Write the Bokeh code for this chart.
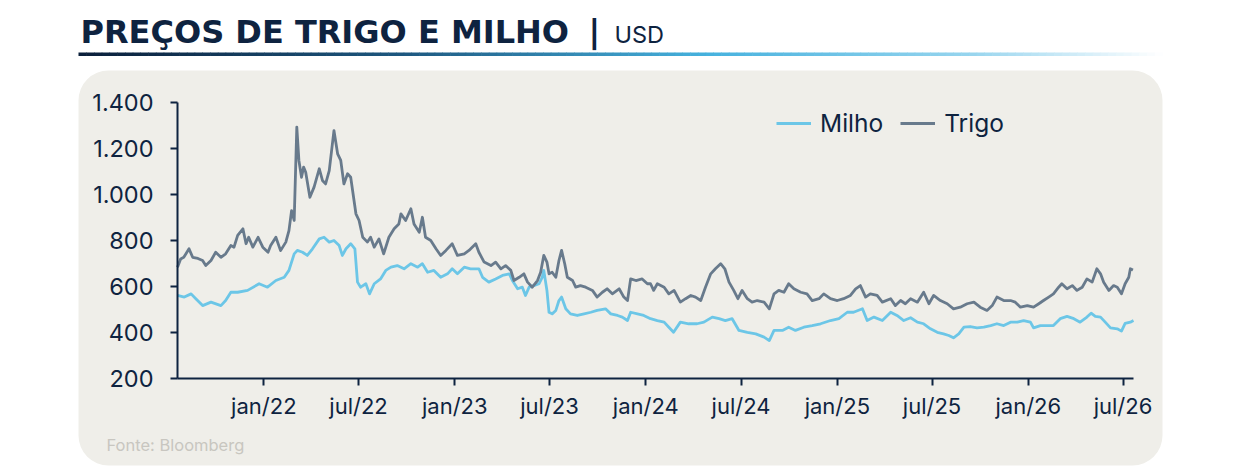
import pandas as pd
from bokeh.plotting import figure
from bokeh.models import (Range1d, FixedTicker, Label, BoxAnnotation, Legend,
                          LegendItem)
from bokeh.embed import file_html
from bokeh.resources import INLINE

# ---------------- data (days since 2022-01-01, USD) ----------------
trigo_day = [-165, -159, -153, -143, -136, -126, -117, -111, -101, -92, -82, -73, -63, -57,
             -50, -40, -34, -29, -21, -11, -2, 8, 13, 23, 32, 42, 48, 53, 58, 63, 67, 72,
             76, 80, 88, 96, 106, 112, 118, 125, 134, 141, 147, 153, 160, 166, 176, 182,
             189, 198, 204, 211, 220, 229, 239, 249, 258, 262, 271, 281, 287, 297, 303,
             309, 319, 329, 338, 348, 360, 370, 383, 392, 405, 411, 421, 434, 443, 453,
             462, 472, 478, 488, 497, 504, 513, 523, 529, 535, 541, 545, 551, 558, 564,
             569, 575, 580, 590, 596, 605, 615, 628, 637, 647, 656, 666, 679, 688, 695,
             701, 711, 723, 733, 739, 745, 752, 765, 774, 784, 796, 806, 816, 825, 835,
             844, 854, 863, 873, 881, 889, 898, 906, 914, 924, 933, 943, 956, 966, 975,
             984, 994, 1003, 1013, 1026, 1038, 1048, 1061, 1070, 1083, 1096, 1108, 1121,
             1131, 1140, 1150, 1159, 1172, 1182, 1198, 1207, 1217, 1226, 1236, 1249,
             1261, 1271, 1280, 1293, 1306, 1318, 1331, 1344, 1357, 1369, 1382, 1392,
             1401, 1414, 1427, 1436, 1446, 1459, 1471, 1481, 1490, 1500, 1509, 1519,
             1525, 1535, 1545, 1554, 1564, 1573, 1583, 1592, 1599, 1605, 1615, 1624,
             1631, 1639, 1646, 1653, 1656, 1661]
trigo_usd = [684, 720, 727, 764, 727, 722, 713, 691, 713, 749, 727, 742, 778, 771,
             822, 851, 786, 814, 771, 814, 771, 749, 778, 814, 756, 793, 843, 930, 887, 1293, 1148, 1075,
             1119, 1097, 988, 1032, 1112, 1061, 1046, 1104, 1278, 1177, 1148, 1046, 1090, 1075, 916, 887,
             814, 793, 814, 771, 807, 742, 814, 851, 872, 916, 887, 938, 872, 836, 901,
             814, 800, 764, 735, 757, 786, 735, 742, 757, 786, 749, 706, 691, 706, 677,
             691, 670, 626, 640, 655, 619, 597, 626, 662, 735, 706, 655, 662, 640, 713,
             757, 699, 640, 626, 597, 604, 597, 583, 554, 575, 590, 568, 590, 554, 539,
             633, 626, 633, 612, 612, 583, 612, 597, 568, 583, 532, 547, 561, 554, 539,
             597, 655, 677, 699, 677, 619, 583, 547, 583, 547, 532, 539, 532, 503, 568,
             583, 575, 612, 590, 575, 568, 539, 547, 568, 547, 539, 547, 561,
             590, 604, 554, 568, 561, 532, 547, 517, 539, 525, 547, 532,
             575, 525, 561, 539, 525, 503, 510, 525, 532, 510, 496, 517,
             554, 539, 539, 532, 510, 517, 510, 525, 539, 554, 568, 597,
             612, 590, 604, 583, 597, 633, 619, 677, 655, 619, 583, 604,
             597, 568, 612, 640, 677, 672]

milho_day = [-165, -152, -139, -130, -117, -101, -82, -73, -63, -50, -31, -9, 7, 23, 39, 48,
             58, 64, 74, 83, 93, 106, 115, 125, 134, 144, 150, 157, 166, 174, 179, 185,
             195, 202, 211, 223, 233, 243, 255, 268, 281, 294, 303, 313, 325, 338, 351,
             360, 370, 383, 395, 411, 418, 430, 443, 456, 469, 475, 485, 494, 500, 507,
             516, 526, 532, 535, 541, 545, 551, 558, 564, 569, 577, 586, 599, 612, 625,
             637, 653, 663, 676, 685, 695, 701, 714, 726, 739, 752, 765, 774, 783, 796,
             812, 828, 841, 857, 870, 882, 895, 908, 924, 940, 956, 966, 975, 991, 1003,
             1016, 1032, 1048, 1064, 1083, 1099, 1115, 1127, 1144, 1153, 1166, 1182,
             1198, 1210, 1223, 1236, 1249, 1261, 1274, 1287, 1299, 1309, 1318, 1328,
             1338, 1350, 1363, 1376, 1389, 1401, 1414, 1427, 1440, 1452, 1465, 1471,
             1484, 1497, 1509, 1522, 1535, 1548, 1560, 1573, 1581, 1589, 1599, 1608,
             1618, 1631, 1639, 1646, 1656, 1662]
milho_usd = [561, 554, 568, 547, 517, 532, 517, 539, 575, 575, 583, 612, 597, 626, 640, 670,
             742, 757, 749, 735, 764, 807, 814, 793, 800, 778, 735, 764, 786, 764, 619, 597,
             612, 568, 612, 633, 670, 684, 691, 677, 699, 684, 699, 662, 670, 640, 655,
             677, 655, 684, 677, 677, 640, 619, 633, 648, 655, 626, 590, 597, 561, 597,
             604, 612, 640, 670, 583, 488, 481, 496, 539, 554, 503, 481, 474, 481, 488,
             496, 503, 481, 474, 467, 452, 488, 481, 474, 460, 452, 445, 423, 401, 445,
             438, 438, 445, 467, 460, 452, 460, 409, 401, 394, 380, 365, 409, 409, 423,
             409, 423, 430, 438, 452, 460, 488, 488, 503, 452, 467, 452,
             488, 474, 452, 464, 445, 438, 416, 401, 394, 387, 377, 394,
             423, 426, 420, 423, 430, 438, 430, 445, 445, 452, 445, 420,
             430, 430, 430, 460, 470, 460, 445, 467, 484, 470, 467, 445,
             420, 416, 406, 440, 445, 452]

tick_dates = ["2022-01-01", "2022-07-01", "2023-01-01", "2023-07-01", "2024-01-01",
              "2024-07-01", "2025-01-01", "2025-07-01", "2026-01-01", "2026-07-01"]
tick_labels = ["jan/22", "jul/22", "jan/23", "jul/23", "jan/24",
               "jul/24", "jan/25", "jul/25", "jan/26", "jul/26"]
y_ticks = [200, 400, 600, 800, 1000, 1200, 1400]
y_tick_labels = ["200", "400", "600", "800", "1.000", "1.200", "1.400"]

# ---------------- styling ----------------
NAVY = "#0e2340"
PANEL = "#efeee9"
C_MILHO = "#6cc6e7"
C_TRIGO = "#687a8c"
FONT = "Inter"

base = pd.Timestamp("2022-01-01")
tick_pos = [int((pd.Timestamp(d) - base).days) for d in tick_dates]

W, H = 1240, 469
# plot area on the page and the data values at its edges
FL, FR, FT, FB = 177, 1133, 102, 378
X0, X1 = -165, 1662
Y0, Y1 = 200, 1400
kx = (FR - FL) / (X1 - X0)
ky = (FB - FT) / (Y1 - Y0)

def dx(px):  # page x -> data x
    return X0 + (px - FL) / kx

def dy(py):  # page y -> data y
    return Y0 + (FB - py) / ky

p = figure(width=W, height=H, output_backend="svg", toolbar_location=None,
           x_range=Range1d(dx(0), dx(W)), y_range=Range1d(dy(H), dy(0)),
           min_border=0, min_border_left=0, min_border_right=0,
           min_border_top=0, min_border_bottom=0)
p.background_fill_color = "white"
p.border_fill_color = "white"
p.outline_line_color = None
p.grid.visible = False

# panel (rounded)
p.add_layout(BoxAnnotation(left=dx(78), right=dx(1162), top=dy(70), bottom=dy(465),
                           fill_color=PANEL, fill_alpha=1.0, line_alpha=0,
                           border_radius=30, level="underlay"))

# gradient underline under title
stops = [(0.0, (11, 31, 58)), (0.3, (29, 88, 128)), (0.58, (70, 178, 222)),
         (0.82, (150, 212, 238)), (1.0, (255, 255, 255))]
def interp(t):
    for (t0, c0), (t1, c1) in zip(stops[:-1], stops[1:]):
        if t <= t1:
            f = (t - t0) / (t1 - t0)
            return "#%02x%02x%02x" % tuple(int(round(a + (b - a) * f)) for a, b in zip(c0, c1))
    return "#ffffff"
x0, x1, nseg = 78, 1162, 140
for i in range(nseg):
    l = x0 + (x1 - x0) * i / nseg
    r = x0 + (x1 - x0) * (i + 1) / nseg + 0.6
    p.add_layout(BoxAnnotation(left=dx(l), right=dx(r), top=dy(52), bottom=dy(55.5),
                               fill_color=interp((i + 0.5) / nseg), fill_alpha=1.0,
                               line_alpha=0, level="underlay"))

# lines
r_m = p.line(milho_day, milho_usd, line_color=C_MILHO, line_width=2.8, line_join="round")
r_t = p.line(trigo_day, trigo_usd, line_color=C_TRIGO, line_width=2.8, line_join="round")

# axes (pinned to the plot-area edges)
p.xaxis.fixed_location = Y0
p.yaxis.fixed_location = X0
p.xaxis.bounds = (X0, X1)
p.yaxis.bounds = (Y0, Y1)
for ax in (p.xaxis[0], p.yaxis[0]):
    ax.axis_line_color = NAVY
    ax.axis_line_width = 2
    ax.major_tick_line_color = NAVY
    ax.major_tick_line_width = 2
    ax.major_tick_in = 0
    ax.major_tick_out = 7
    ax.minor_tick_line_color = None
    ax.major_label_text_color = NAVY
    ax.major_label_text_font = FONT

p.xaxis.ticker = FixedTicker(ticks=tick_pos)
p.xaxis.major_label_overrides = {t: s for t, s in zip(tick_pos, tick_labels)}
p.xaxis.major_label_standoff = 7
p.xaxis.major_label_text_font_size = "22px"
p.yaxis.ticker = FixedTicker(ticks=y_ticks)
p.yaxis.major_label_overrides = {t: s for t, s in zip(y_ticks, y_tick_labels)}
p.yaxis.major_label_standoff = 17
p.yaxis.major_label_text_font_size = "23.5px"

# legend
legend = Legend(items=[LegendItem(label="Milho", renderers=[r_m]),
                       LegendItem(label="Trigo", renderers=[r_t])],
                orientation="horizontal", location=(776, H - 137.5),
                glyph_width=35, glyph_height=24, label_height=24,
                label_standoff=9, spacing=17, padding=0, margin=0,
                label_text_font=FONT, label_text_font_size="24.5px",
                label_text_color=NAVY, background_fill_alpha=0,
                border_line_alpha=0)
p.add_layout(legend)

# title texts
p.add_layout(Label(x=dx(80), y=dy(31), text="PREÇOS DE TRIGO E MILHO",
                   text_font="DejaVu Sans", text_font_style="bold",
                   text_font_size="32px", text_color=NAVY, text_baseline="middle"))
p.add_layout(Label(x=dx(588), y=dy(30), text="|", text_font="DejaVu Sans",
                   text_font_style="bold", text_font_size="32px", text_color=NAVY,
                   text_baseline="middle"))
p.add_layout(Label(x=dx(614), y=dy(34), text="USD", text_font=FONT,
                   text_font_size="23.5px", text_color=NAVY, text_baseline="middle"))
p.add_layout(Label(x=dx(106), y=dy(444), text="Fonte: Bloomberg", text_font=FONT,
                   text_font_size="16.5px", text_color="#c8c6c0", text_baseline="middle"))

open("out.html", "w").write(file_html(p, INLINE))
